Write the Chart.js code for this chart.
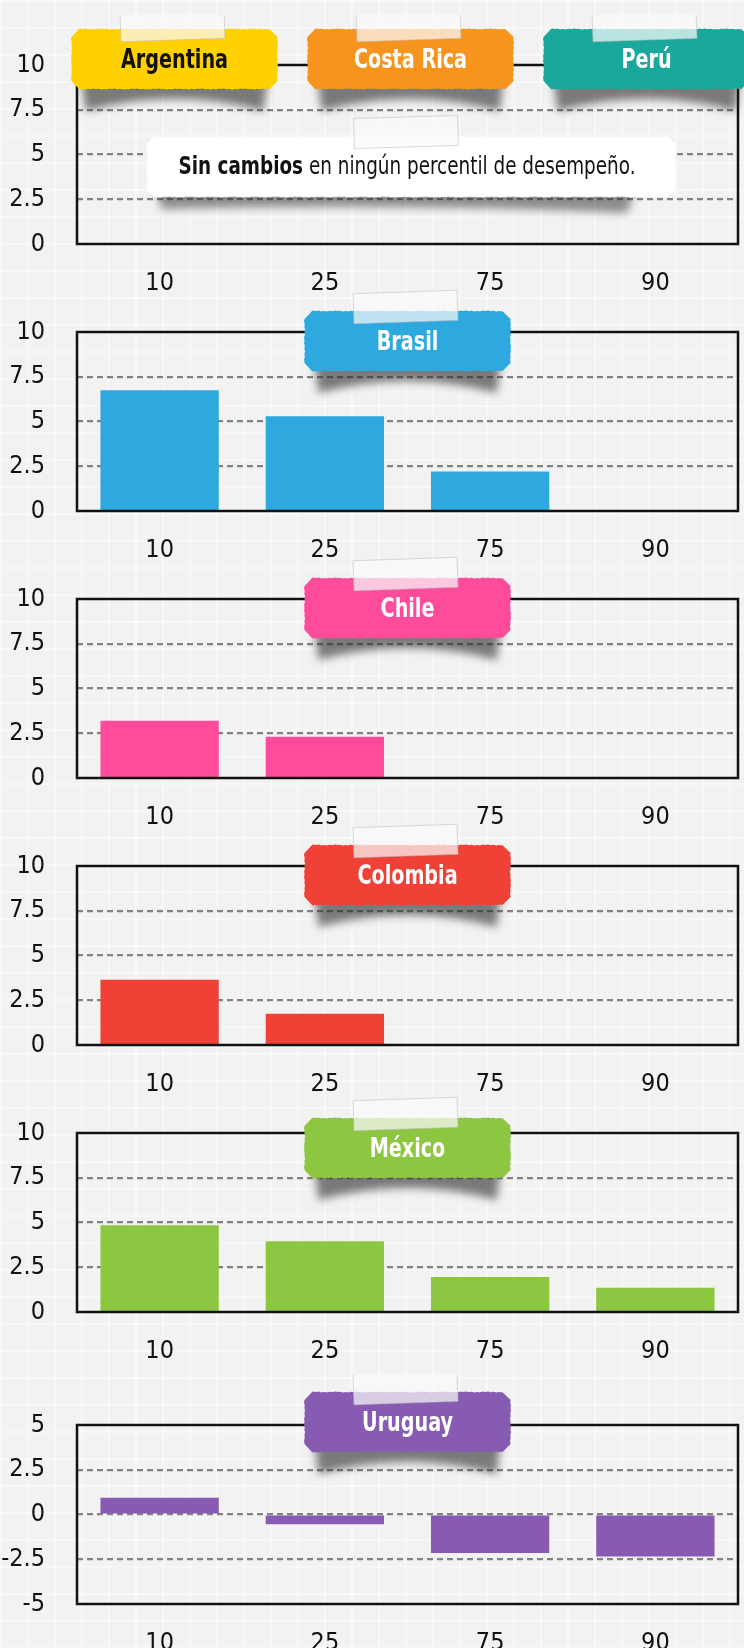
<!DOCTYPE html>
<html>
<head>
<meta charset="utf-8">
<script src="https://cdn.jsdelivr.net/npm/chart.js@4.4.1/dist/chart.umd.min.js"></script>
<style>
html, body { margin: 0; padding: 0; }
body {
    width: 744px; height: 1648px; overflow: hidden; position: relative;
    background-color: #f2f2f2;
    background-image:
        linear-gradient(to right, rgba(255,255,255,0.35) 2px, transparent 2px),
        linear-gradient(to bottom, rgba(255,255,255,0.35) 2px, transparent 2px);
    background-size: 27px 27px;
}
canvas { position: absolute; left: 0; }
</style>
</head>
<body>
<script>
// Data (change in points per performance percentile)
const percentiles = ['10', '25', '75', '90'];
const sinCambios = [0, 0, 0, 0];            // Argentina, Costa Rica, Perú
const brasil   = [6.75, 5.3, 2.2, 0];
const chile    = [3.2, 2.3, 0, 0];
const colombia = [3.65, 1.75, 0, 0];
const mexico   = [4.85, 3.95, 1.95, 1.35];
const uruguay  = [0.93, -0.55, -2.15, -2.35];
const posTicks = [0, 2.5, 5, 7.5, 10];
const negTicks = [-5, -2.5, 0, 2.5, 5];
const nota = ['Sin cambios', ' en ningún percentil de desempeño.'];

const FONT = "'Liberation Sans Narrow', 'DejaVu Sans Condensed', sans-serif";
const PAD_TOP = 50, PLOT_H = 179, CANVAS_H = 290;

const panels = [
    { top: 65, data: sinCambios, ticks: posTicks, color: '#000', dy: -6, note: true,
      tags: [{ name: 'Argentina', bg: '#ffd100', fg: '#111', dx: -233 },
             { name: 'Costa Rica', bg: '#f7941e', fg: '#fff', dx: 3 },
             { name: 'Perú', bg: '#1aa89c', fg: '#fff', dx: 239 }] },
    { top: 332, data: brasil, ticks: posTicks, color: '#2ea9e0', dy: 9,
      tags: [{ name: 'Brasil', bg: '#2ea9e0', fg: '#fff', dx: 0 }] },
    { top: 599, data: chile, ticks: posTicks, color: '#ff4b9b', dy: 9,
      tags: [{ name: 'Chile', bg: '#ff4b9b', fg: '#fff', dx: 0 }] },
    { top: 866, data: colombia, ticks: posTicks, color: '#ef4136', dy: 9,
      tags: [{ name: 'Colombia', bg: '#ef4136', fg: '#fff', dx: 0 }] },
    { top: 1133, data: mexico, ticks: posTicks, color: '#8dc641', dy: 15,
      tags: [{ name: 'México', bg: '#8dc641', fg: '#fff', dx: 0 }] },
    { top: 1425, data: uruguay, ticks: negTicks, color: '#875bb2', dy: -3,
      tags: [{ name: 'Uruguay', bg: '#875bb2', fg: '#fff', dx: 0 }] }
];

// rounded rectangle with a slightly wavy edge, like torn paper
function roughRect(ctx, x, y, w, h, r) {
    const pts = [];
    const edge = (x0, y0, x1, y1, nx, ny, seed) => {
        const len = Math.hypot(x1 - x0, y1 - y0);
        const n = Math.max(2, Math.round(len / 2));
        for (let i = 0; i <= n; i++) {
            const t = i / n;
            const j = 0.35 * Math.sin(i * 2.3 + seed) + 0.25 * Math.sin(i * 5.7 + seed * 2);
            pts.push([x0 + (x1 - x0) * t + nx * j, y0 + (y1 - y0) * t + ny * j]);
        }
    };
    edge(x + r, y, x + w - r, y, 0, -1, 1);
    edge(x + w, y + r, x + w, y + h - r, 1, 0, 2);
    edge(x + w - r, y + h, x + r, y + h, 0, 1, 3);
    edge(x, y + h - r, x, y + r, -1, 0, 4);
    ctx.beginPath();
    ctx.moveTo(pts[0][0], pts[0][1]);
    pts.forEach(p => ctx.lineTo(p[0], p[1]));
    ctx.closePath();
}

function curlShadow(ctx, l, r, b, depth) {
    ctx.save();
    ctx.filter = 'blur(4px)';
    ctx.fillStyle = 'rgba(40,40,40,0.6)';
    ctx.beginPath();
    ctx.moveTo(l + 10, b - 10);
    ctx.lineTo(r - 10, b - 10);
    ctx.lineTo(r - 14, b + depth);
    ctx.quadraticCurveTo((l + r) / 2, b - 2, l + 14, b + depth);
    ctx.closePath();
    ctx.fill();
    ctx.restore();
}

function tape(ctx, cx, cy, w, h, ang) {
    ctx.save();
    ctx.translate(cx, cy);
    ctx.rotate(ang);
    ctx.fillStyle = 'rgba(250,250,250,0.72)';
    ctx.fillRect(-w / 2, -h / 2, w, h);
    ctx.strokeStyle = 'rgba(190,190,190,0.55)';
    ctx.lineWidth = 1;
    ctx.strokeRect(-w / 2, -h / 2, w, h);
    ctx.restore();
}

// text squeezed sideways to look like the condensed face of the original
function narrowText(ctx, txt, x, y, sx) {
    ctx.save();
    ctx.translate(x, y);
    ctx.scale(sx, 1);
    ctx.fillText(txt, 0, 0);
    ctx.restore();
}

function tag(ctx, cx, cy, t) {
    const w = 206, h = 60;
    const l = cx - w / 2, top = cy - h / 2;
    curlShadow(ctx, l, l + w, top + h, 22);
    ctx.save();
    ctx.fillStyle = t.bg;
    ctx.filter = 'blur(0.5px)';
    roughRect(ctx, l, top, w, h, 8);
    ctx.fill();
    ctx.filter = 'none';
    ctx.fillStyle = t.fg;
    ctx.font = 'bold 26px ' + FONT;
    ctx.textAlign = 'center';
    ctx.textBaseline = 'middle';
    narrowText(ctx, t.name, cx, cy + 2, 0.82);
    ctx.restore();
    tape(ctx, cx - 2, top - 4, 104, 30, -0.035);
}

function makeDeco(p) {
    return {
        id: 'deco',
        afterDatasetsDraw(chart) {
            const a = chart.chartArea, ctx = chart.ctx;
            ctx.save();
            ctx.strokeStyle = '#111';
            ctx.lineWidth = 2.5;
            ctx.strokeRect(a.left, a.top, a.right - a.left, a.bottom - a.top);
            ctx.restore();
        },
        afterDraw(chart) {
            const a = chart.chartArea, ctx = chart.ctx;
            const mid = (a.left + a.right) / 2;
            if (p.note) {
                const l = 147, r = 675, top = a.top + 72, h = 60;
                ctx.save();
                ctx.filter = 'blur(4px)';
                ctx.fillStyle = 'rgba(40,40,40,0.5)';
                ctx.beginPath();
                ctx.moveTo(l + 10, top + h - 8);
                ctx.lineTo(r - 40, top + h - 8);
                ctx.lineTo(r - 48, top + h + 16);
                ctx.quadraticCurveTo((l + r) / 2, top + h + 6, l + 14, top + h + 12);
                ctx.closePath();
                ctx.fill();
                ctx.restore();
                ctx.save();
                ctx.fillStyle = '#ffffff';
                ctx.filter = 'blur(0.5px)';
                roughRect(ctx, l, top, r - l, h, 7);
                ctx.fill();
                ctx.filter = 'none';
                ctx.font = 'bold 24px ' + FONT;
                const w1 = ctx.measureText(nota[0]).width;
                ctx.font = '24px ' + FONT;
                const w2 = ctx.measureText(nota[1]).width;
                const sx = 457 / (w1 + w2);
                let x = (l + r) / 2 - 457 / 2 - 4;
                ctx.textBaseline = 'middle';
                ctx.fillStyle = '#111';
                ctx.font = 'bold 24px ' + FONT;
                narrowText(ctx, nota[0], x, top + h / 2 + 1, sx);
                ctx.font = '24px ' + FONT;
                narrowText(ctx, nota[1], x + w1 * sx, top + h / 2 + 1, sx);
                ctx.restore();
                tape(ctx, 406, top - 5, 104, 30, -0.03);
            }
            p.tags.forEach(t => tag(ctx, mid + t.dx, a.top + p.dy, t));
        }
    };
}

panels.forEach(p => {
    const cv = document.createElement('canvas');
    cv.width = 744;
    cv.height = CANVAS_H;
    cv.style.top = (p.top - PAD_TOP) + 'px';
    document.body.appendChild(cv);
    const lo = p.ticks[0], hi = p.ticks[p.ticks.length - 1];

    new Chart(cv, {
        type: 'bar',
        data: {
            labels: percentiles,
            datasets: [{
                data: p.data,
                backgroundColor: p.color,
                borderWidth: 0,
                barPercentage: 0.716,
                categoryPercentage: 1
            }]
        },
        options: {
            responsive: false,
            animation: false,
            locale: 'en-US',
            layout: { padding: { top: PAD_TOP, right: 6, left: 0, bottom: 0 } },
            plugins: { legend: { display: false }, tooltip: { enabled: false } },
            scales: {
                x: {
                    grid: { display: false },
                    border: { display: false },
                    ticks: { color: '#111', font: { family: FONT, size: 25 }, padding: 16 },
                    afterFit: s => { s.height = CANVAS_H - PAD_TOP - PLOT_H; }
                },
                y: {
                    min: lo,
                    max: hi,
                    afterBuildTicks: s => { s.ticks = p.ticks.map(v => ({ value: v })); },
                    grid: {
                        color: c => (c.tick && (c.tick.value === lo || c.tick.value === hi)) ? 'rgba(0,0,0,0)' : '#828282',
                        lineWidth: 2.2,
                        drawTicks: false
                    },
                    border: { display: false, dash: [6, 4] },
                    ticks: { color: '#111', font: { family: FONT, size: 25 }, padding: 32 },
                    afterFit: s => { s.width = 77; }
                }
            }
        },
        plugins: [makeDeco(p)]
    });
});
</script>
</body>
</html>
